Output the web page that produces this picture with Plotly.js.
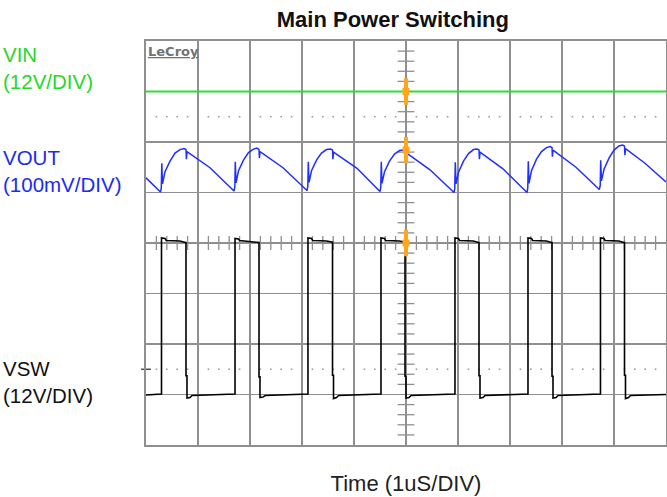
<!DOCTYPE html>
<html>
<head>
<meta charset="utf-8">
<script src="https://cdn.plot.ly/plotly-3.0.1.min.js"></script>
<style>
html,body{margin:0;padding:0;background:#fff;}
#chart{width:667px;height:497px;}
</style>
</head>
<body>
<div id="chart"></div>
<script>
// ---- Data (time in µs, amplitude in screen divisions) ----
const vinTime = [0, 10];
const vinDiv  = [3.00, 3.00];

const voutTime = [0.000, 0.279, 0.294, 0.304, 0.317, 0.365, 0.462, 0.558, 0.654, 0.731, 0.769, 0.777, 0.788, 1.231, 1.692,
  1.708, 1.717, 1.731, 1.779, 1.875, 1.971, 2.067, 2.135, 2.173, 2.181, 2.192, 2.635, 3.096,
  3.112, 3.121, 3.135, 3.183, 3.279, 3.375, 3.471, 3.548, 3.587, 3.594, 3.606, 4.058, 4.500,
  4.515, 4.525, 4.538, 4.587, 4.683, 4.779, 4.875, 4.942, 4.981, 4.988, 5.000, 5.462, 5.923,
  5.938, 5.948, 5.962, 6.010, 6.106, 6.202, 6.298, 6.365, 6.404, 6.412, 6.423, 6.865, 7.327,
  7.342, 7.352, 7.365, 7.413, 7.510, 7.606, 7.702, 7.769, 7.808, 7.815, 7.827, 8.269, 8.717,
  8.735, 8.744, 8.758, 8.808, 8.904, 9.000, 9.096, 9.163, 9.202, 9.210, 9.221, 9.596, 10.000];
const voutDiv = [1.29, 1.01, 1.09, 1.58, 1.17, 1.41, 1.62, 1.78, 1.85, 1.87, 1.85, 1.66, 1.81, 1.49, 1.03,
  1.11, 1.61, 1.19, 1.43, 1.64, 1.79, 1.86, 1.88, 1.85, 1.68, 1.81, 1.49, 1.04,
  1.12, 1.61, 1.20, 1.43, 1.64, 1.78, 1.85, 1.86, 1.84, 1.66, 1.80, 1.48, 1.02,
  1.10, 1.61, 1.18, 1.41, 1.62, 1.76, 1.83, 1.84, 1.82, 1.68, 1.79, 1.45, 1.00,
  1.08, 1.60, 1.17, 1.40, 1.62, 1.77, 1.85, 1.86, 1.84, 1.66, 1.80, 1.47, 1.00,
  1.09, 1.62, 1.18, 1.43, 1.66, 1.81, 1.89, 1.91, 1.89, 1.71, 1.84, 1.50, 1.06,
  1.14, 1.64, 1.23, 1.46, 1.68, 1.84, 1.92, 1.94, 1.92, 1.74, 1.87, 1.58, 1.21];

const vswTime = [0.000, 0.278, 0.298, 0.298, 0.365, 0.388, 0.650, 0.760, 0.769, 0.769, 0.788, 0.788, 0.846, 0.885, 1.320, 1.690,
  1.712, 1.712, 1.780, 1.800, 2.060, 2.163, 2.173, 2.173, 2.192, 2.192, 2.250, 2.290, 2.720, 3.095,
  3.115, 3.115, 3.183, 3.205, 3.470, 3.577, 3.587, 3.587, 3.606, 3.606, 3.664, 3.703, 4.130, 4.499,
  4.519, 4.519, 4.587, 4.607, 4.870, 4.971, 4.981, 4.981, 5.000, 5.000, 5.058, 5.097, 5.530, 5.922,
  5.942, 5.942, 6.010, 6.030, 6.290, 6.394, 6.404, 6.404, 6.423, 6.423, 6.481, 6.520, 6.950, 7.326,
  7.346, 7.346, 7.414, 7.434, 7.700, 7.798, 7.808, 7.808, 7.827, 7.827, 7.885, 7.924, 8.350, 8.720,
  8.740, 8.740, 8.808, 8.828, 9.090, 9.192, 9.202, 9.202, 9.221, 9.221, 9.279, 9.318, 9.700, 10.000];
const vswDiv = [-3.01, -2.99, -2.99, 0.10, 0.09, 0.05, 0.04, 0.01, 0.01, -2.63, -2.63, -3.07, -3.06, -3.02, -3.01, -2.99,
  -2.99, 0.09, 0.08, 0.05, 0.03, 0.01, 0.01, -2.65, -2.65, -3.06, -3.05, -3.02, -3.01, -2.99,
  -2.99, 0.10, 0.09, 0.05, 0.04, 0.02, 0.02, -2.62, -2.62, -3.08, -3.06, -3.02, -3.01, -2.99,
  -2.99, 0.10, 0.09, 0.05, 0.04, 0.02, 0.02, -2.64, -2.64, -3.07, -3.06, -3.02, -3.01, -2.99,
  -2.99, 0.10, 0.09, 0.05, 0.04, 0.01, 0.01, -2.63, -2.63, -3.07, -3.06, -3.02, -3.01, -2.99,
  -2.99, 0.10, 0.09, 0.05, 0.04, 0.01, 0.01, -2.64, -2.64, -3.07, -3.06, -3.02, -3.01, -2.99,
  -2.99, 0.10, 0.09, 0.05, 0.04, 0.01, 0.01, -2.62, -2.62, -3.08, -3.06, -3.02, -3.01, -3.00];

const channelNames  = ['VIN', 'VOUT', 'VSW'];
const channelScales = ['(12V/DIV)', '(100mV/DIV)', '(12V/DIV)'];
const channelMarkerLevels = [3.0, 1.84, 0.0];   // orange offset markers at screen centre
const dottedLevels = [2.5, -2.5];
const chartTitle = 'Main Power Switching';
const xTitle = 'Time (1uS/DIV)';

// ---- Styling ----
const GRID = '#8f8f8f';
const FONT = 'Liberation Sans, Arial, sans-serif';
const colors = {VIN: '#2fe02f', VOUT: '#1f2fff', VSW: '#000000'};
const labelColors = {VIN: '#27d827', VOUT: '#1a2cf0', VSW: '#111111'};

// ---- Decorations: centre crosshair minor ticks & dotted reference rows ----
const hTickX = [], hTickY = [];
for (let i = 1; i < 50; i++) { if (i % 5) { hTickX.push(i / 5); hTickY.push(0); } }
const vTickX = [], vTickY = [];
for (let i = -19; i < 20; i++) { if (i % 5) { vTickX.push(5); vTickY.push(i / 5); } }
const dotX = [], dotY = [];
dottedLevels.forEach(l => { for (let i = 1; i < 50; i++) { if (i % 5) { dotX.push(i / 5); dotY.push(l); } } });

const traces = [
  {x: dotX, y: dotY, mode: 'markers', type: 'scatter', hoverinfo: 'skip',
   marker: {symbol: 'square', size: 1.6, color: '#9a9a9a'}},
  {x: hTickX, y: hTickY, mode: 'markers', type: 'scatter', hoverinfo: 'skip',
   marker: {symbol: 'line-ns', size: 10, line: {width: 1.3, color: GRID}}},
  {x: vTickX, y: vTickY, mode: 'markers', type: 'scatter', hoverinfo: 'skip',
   marker: {symbol: 'line-ew', size: 12, line: {width: 1.3, color: GRID}}},
  {x: [0], y: [-2.5], mode: 'markers', type: 'scatter', hoverinfo: 'skip', cliponaxis: false,
   marker: {symbol: 'line-ew', size: 7, line: {width: 1.3, color: '#333'}}},
  {x: vinTime, y: vinDiv, mode: 'lines', type: 'scatter', name: 'VIN',
   line: {color: colors.VIN, width: 2.2}},
  {x: voutTime, y: voutDiv, mode: 'lines', type: 'scatter', name: 'VOUT',
   line: {color: colors.VOUT, width: 1.5}},
  {x: vswTime, y: vswDiv, mode: 'lines', type: 'scatter', name: 'VSW',
   line: {color: colors.VSW, width: 1.6}},
  {x: channelMarkerLevels.map(() => 5), y: channelMarkerLevels, mode: 'markers', type: 'scatter', hoverinfo: 'skip',
   marker: {symbol: 'line-ns', size: 19, line: {width: 4, color: '#ffa51f'}}},
  {x: channelMarkerLevels.map(() => 5), y: channelMarkerLevels, mode: 'markers', type: 'scatter', hoverinfo: 'skip',
   marker: {symbol: 'square', size: 7, color: '#ffa51f', line: {width: 0}}}
];

const labelY = [3.47, 1.42, -2.76];
const annotations = channelNames.map((n, i) => ({
  xref: 'paper', yref: 'y', x: -0.278, y: labelY[i], xanchor: 'left', yanchor: 'middle',
  align: 'left', showarrow: false,
  text: n + '<br>' + channelScales[i],
  font: {family: FONT, size: 20.5, color: labelColors[n]}
}));
annotations.push({
  xref: 'x', yref: 'y', x: 0.0, y: 3.8, xanchor: 'left', yanchor: 'middle', showarrow: false,
  text: '<u>LeCroy</u>', font: {family: 'DejaVu Sans, sans-serif', size: 13, color: '#727272', weight: 'bold'}
});

const layout = {
  width: 667, height: 497,
  margin: {l: 146, r: 1, t: 41, b: 52, pad: 0},
  paper_bgcolor: '#ffffff', plot_bgcolor: '#ffffff',
  showlegend: false,
  title: {text: '<b>' + chartTitle + '</b>', x: 0.589, xanchor: 'center', y: 0.962, yanchor: 'middle',
          font: {family: FONT, size: 22, color: '#111'}},
  xaxis: {range: [0, 10], dtick: 1, tick0: 0, showgrid: true, gridcolor: GRID, gridwidth: 1.6,
          zeroline: false, showticklabels: false, ticks: '', showline: true, linecolor: GRID, linewidth: 1.6, mirror: true,
          title: {text: xTitle, font: {family: FONT, size: 22, color: '#222'}, standoff: 30}},
  yaxis: {range: [-4, 4], dtick: 1, tick0: 0, showgrid: true, gridcolor: GRID, gridwidth: 1.6,
          zeroline: false, showticklabels: false, ticks: '', showline: true, linecolor: GRID, linewidth: 1.6, mirror: true},
  annotations: annotations
};

Plotly.newPlot('chart', traces, layout, {staticPlot: true, displayModeBar: false});
</script>
</body>
</html>
